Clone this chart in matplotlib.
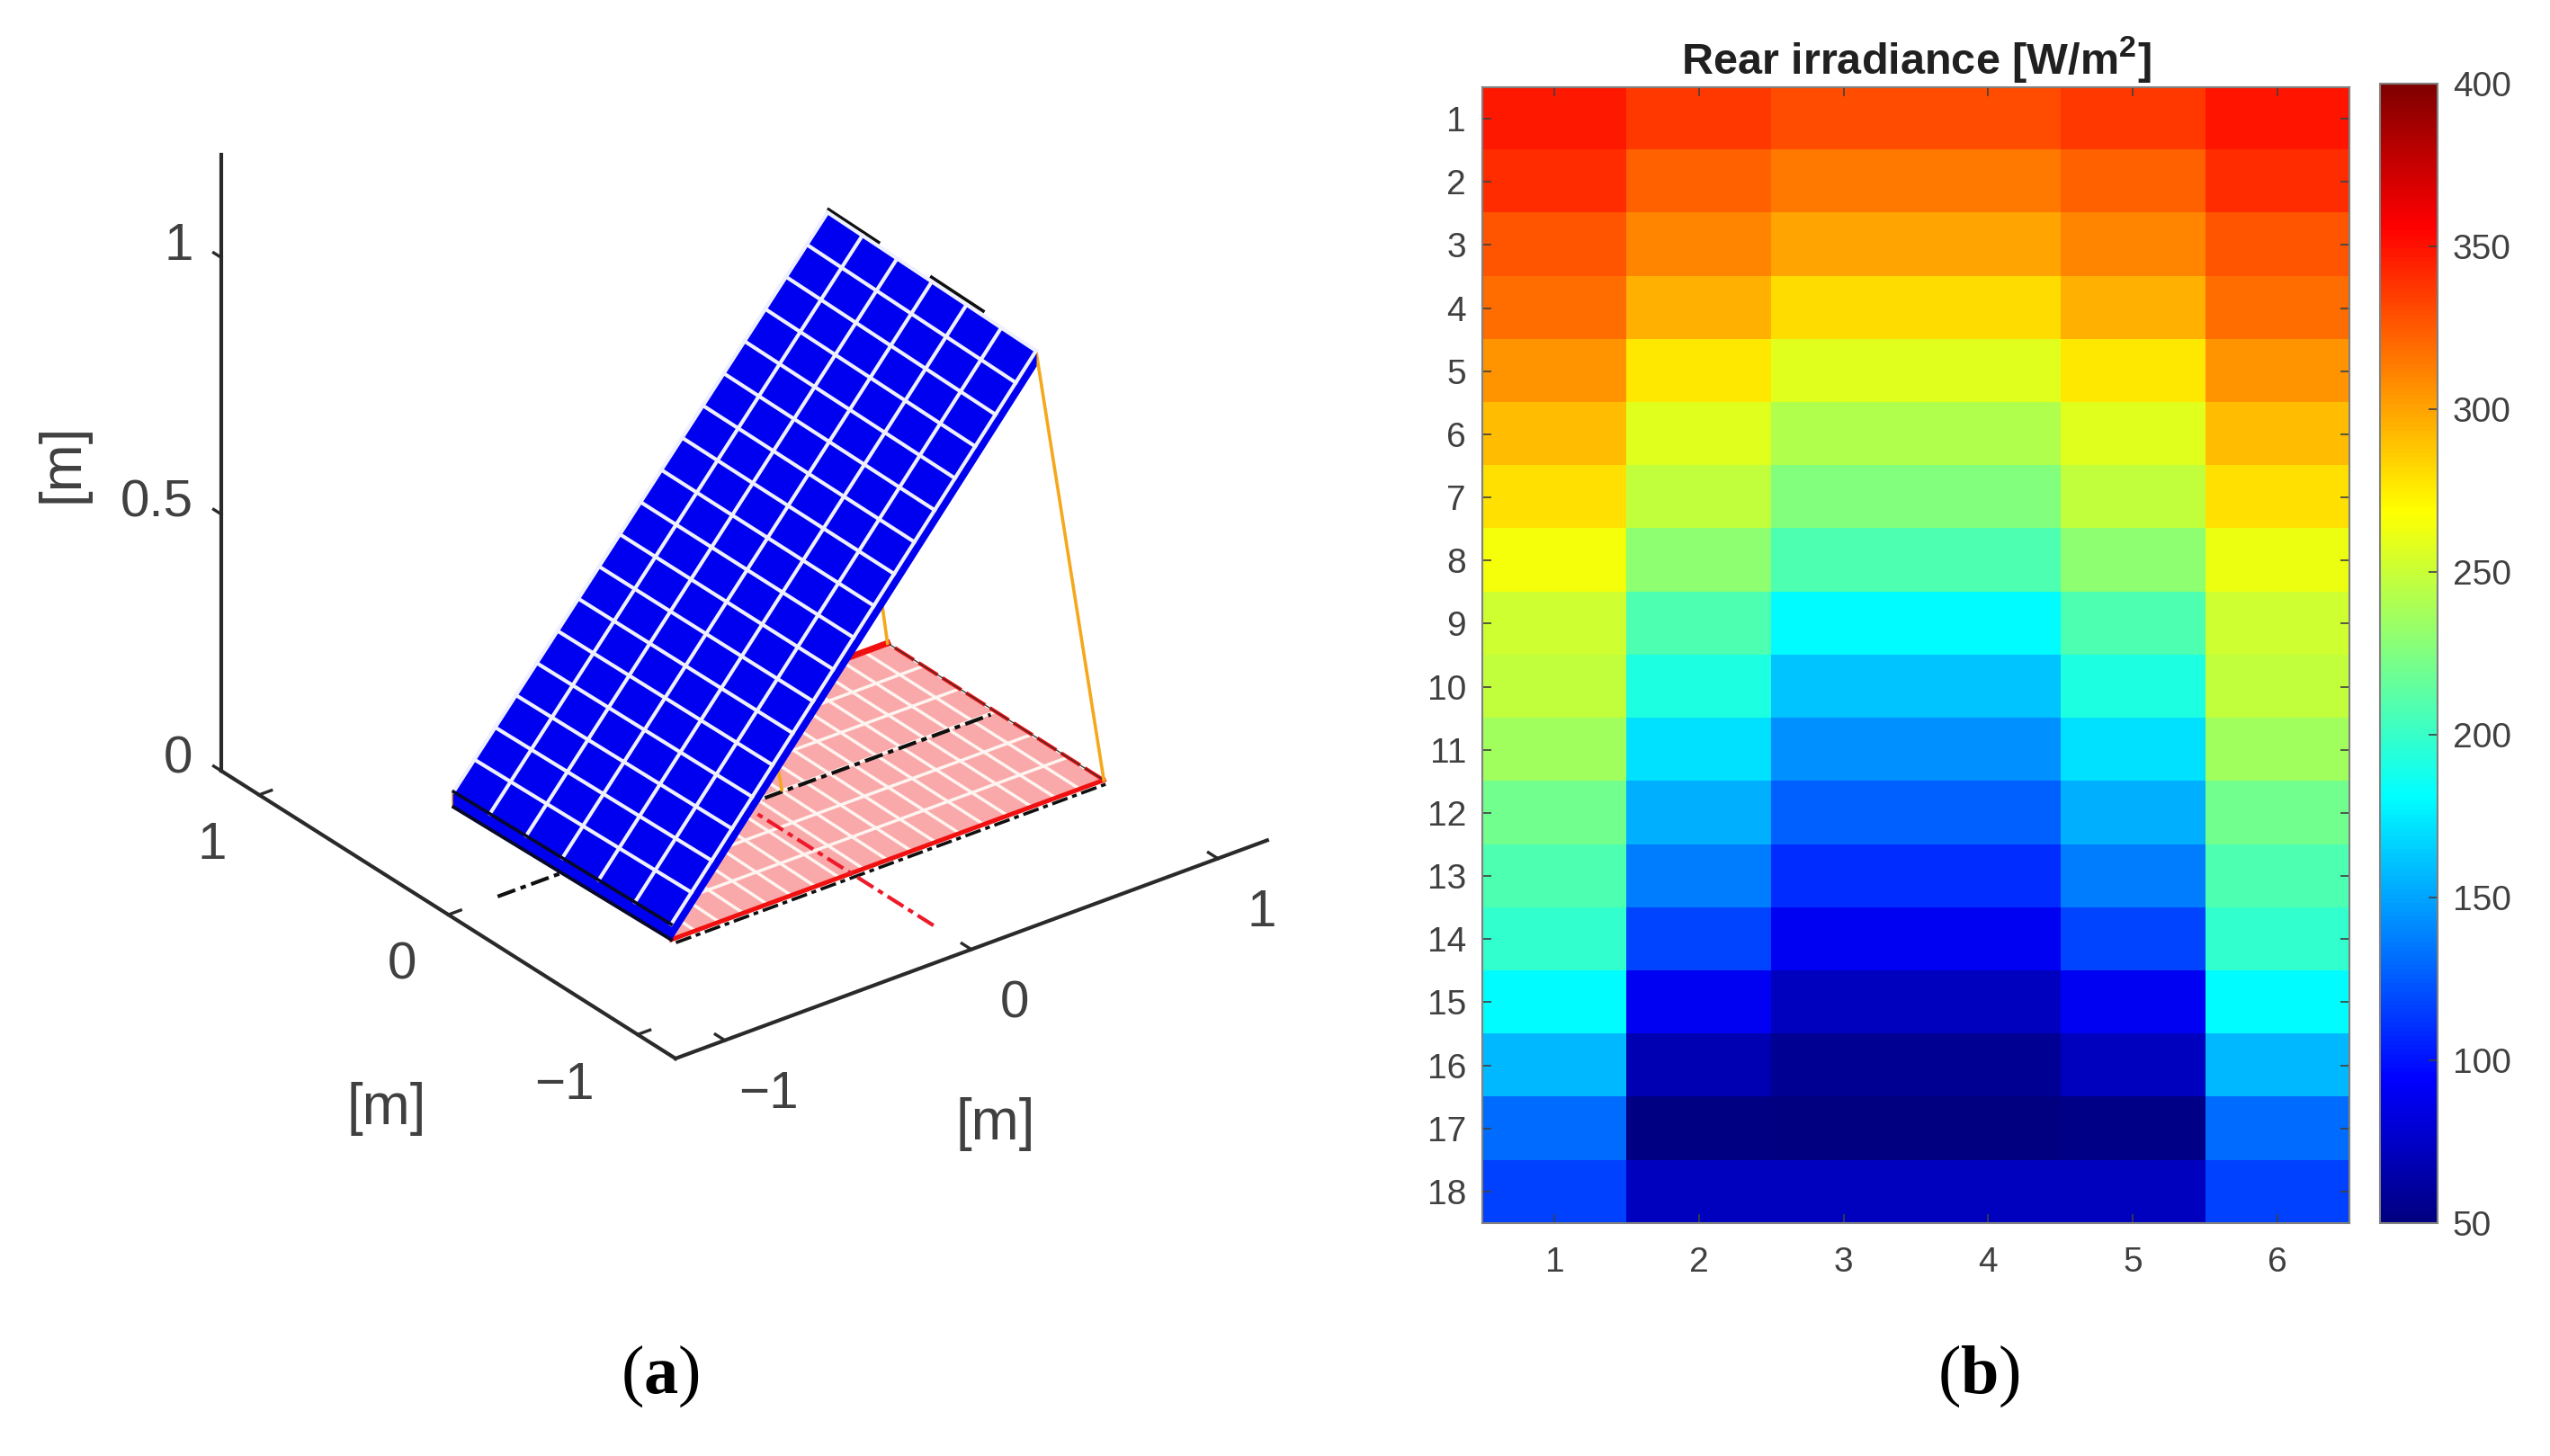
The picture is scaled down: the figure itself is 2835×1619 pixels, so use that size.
import matplotlib

matplotlib.use('Agg')
import matplotlib.pyplot as plt
import numpy as np
from matplotlib.colors import LinearSegmentedColormap
from mpl_toolkits.mplot3d import proj3d
from mpl_toolkits.mplot3d.art3d import Poly3DCollection

W, H = 2835, 1619

ROW_LABELS = list(range(1, 19))
COL_LABELS = list(range(1, 7))
CBAR_TICKS = [50, 100, 150, 200, 250, 300, 350, 400]
REAR_IRRADIANCE = [
    [347, 336, 329, 329, 336, 349],
    [340, 323, 315, 315, 323, 340],
    [327, 311, 299, 299, 311, 327],
    [318, 296, 280, 280, 296, 318],
    [305, 276, 258, 258, 276, 305],
    [291, 258, 242, 242, 258, 291],
    [279, 247, 225, 225, 247, 279],
    [265, 230, 208, 208, 230, 262],
    [252, 208, 181, 181, 208, 252],
    [247, 192, 162, 162, 192, 247],
    [236, 171, 143, 143, 171, 236],
    [220, 154, 127, 127, 154, 220],
    [208, 137, 110, 110, 137, 208],
    [198, 118, 90, 90, 118, 198],
    [181, 90, 72, 72, 90, 181],
    [157, 69, 58, 58, 72, 157],
    [132, 52, 50, 50, 54, 132],
    [116, 72, 73, 73, 72, 116],
]

AXIS_TICKS = [-1, 0, 1]
Z_TICKS = [0, 0.5, 1]
Z_TICK_LABELS = ['0', '0.5', '1']

# corners in metres: low right, low left, top left, top right
PANEL_CORNERS = [
    [-0.73, -0.565, 0.03],
    [-0.751, 0.557, 0.03],
    [0.776, 0.57, 0.885],
    [0.75, -0.565, 0.885],
]
PANEL_THICKNESS = 0.03
# front left, front right, back right, back left
GROUND_CORNERS = [
    [-0.73, -0.565, 0],
    [1.025, -0.565, 0],
    [1.025, 0.578, 0],
    [-0.70, 0.578, 0],
]
SUPPORTS = [
    [[0.75, -0.565, 0.885], [1.025, -0.565, 0]],
    [[0.776, 0.57, 0.885], [1.025, 0.578, 0]],
    [[0.16, 0.01, 0], [0.06, 0.01, 0.3]],
    [[-0.73, -0.565, 0.03], [-0.73, -0.565, 0]],
    [[-0.751, 0.557, 0.03], [-0.751, 0.557, 0]],
]
BLACK_AXIS_LINE = [[-1, 0, 0], [1, 0, 0]]
RED_AXIS_LINE = [[0, -1, 0], [0, 1, 0]]
TOP_DASHES = [
    [[0.78, 0.57, 0.89], [0.775, 0.30, 0.89]],
    [[0.77, 0.013, 0.89], [0.765, -0.266, 0.89]],
]

BLUE = '#0000F0'
PINK = '#F9A9A9'
ORANGE = '#F5A81C'
RED = '#F01010'
AXIS_COLOR = '#2a2a2a'
TEXT_COLOR = '#404040'
JET_STOPS = [
    (0, '#000080'),
    (0.125, '#0000FF'),
    (0.375, '#00FFFF'),
    (0.625, '#FFFF00'),
    (0.875, '#FF0000'),
    (1, '#800000'),
]


def line3d(ax, points, **kwargs):
    x, y, z = np.array(points, dtype=float).T
    ax.plot(x, y, z, **kwargs)


def grid_lines(ax, c0, c1, c2, c3, n_u, n_v, first_v=0, **kwargs):
    # c0-c1 runs across u, c0-c3 runs across v
    c0, c1, c2, c3 = [np.array(c, dtype=float) for c in (c0, c1, c2, c3)]
    for t in np.linspace(0, 1, n_u + 1):
        line3d(ax, [c0 + (c1 - c0) * t, c3 + (c2 - c3) * t], **kwargs)
    for t in np.linspace(0, 1, n_v + 1)[first_v:]:
        line3d(ax, [c0 + (c3 - c0) * t, c1 + (c2 - c1) * t], **kwargs)


def to_pixels(ax, point):
    x, y, _ = proj3d.proj_transform(*point, ax.get_proj())
    px, py = ax.transData.transform((x, y))
    return np.array([px, H - py])


def label3d(fig, ax, point, text, **kwargs):
    # the projected spot goes to a figure text, so the label keeps its real place
    px, py = to_pixels(ax, point)
    fig.text(px / W, 1 - py / H, text, va='center', fontsize=42, color=TEXT_COLOR,
             family='Liberation Sans', **kwargs)


def fit_axes(ax):
    # place the 3D box so its corners land where the picture has them
    left, top, side = 100.0, 100.0, 1200.0
    target_a, target_b = np.array([751.0, 1177.0]), np.array([1409.0, 935.0])
    for _ in range(3):
        ax.set_position([left / W, 1 - (top + side) / H, side / W, side / H])
        ax.apply_aspect()
        a = to_pixels(ax, (-1.2, -1.2, 0))
        b = to_pixels(ax, (1.2, -1.2, 0))
        side *= np.linalg.norm(target_b - target_a) / np.linalg.norm(b - a)
        ax.set_position([left / W, 1 - (top + side) / H, side / W, side / H])
        ax.apply_aspect()
        a = to_pixels(ax, (-1.2, -1.2, 0))
        left += target_a[0] - a[0]
        top += target_a[1] - a[1]
    ax.set_position([left / W, 1 - (top + side) / H, side / W, side / H])
    ax.apply_aspect()


def draw_scene(fig):
    ax = fig.add_axes([0.03, 0.1, 0.42, 0.75], projection='3d', proj_type='ortho')
    ax.computed_zorder = False
    ax.view_init(elev=28.9, azim=-127.35)
    ax.set_xlim(-1.2, 1.2, view_margin=0)
    ax.set_ylim(-1.2, 1.2, view_margin=0)
    ax.set_zlim(0, 1.2, view_margin=0)
    ax.set_box_aspect((827, 832, 782))
    ax.set_axis_off()
    ax.patch.set_alpha(0)
    fit_axes(ax)

    # axes
    axis_kw = dict(color=AXIS_COLOR, lw=3.0, zorder=1, solid_capstyle='projecting')
    line3d(ax, [[-1.2, -1.2, 0], [1.2, -1.2, 0]], **axis_kw)
    line3d(ax, [[-1.2, -1.2, 0], [-1.2, 1.2, 0]], **axis_kw)
    line3d(ax, [[-1.2, 1.2, 0], [-1.2, 1.2, 1.2]], **axis_kw)
    tick_kw = dict(color=AXIS_COLOR, lw=2.4, zorder=1)
    for t in AXIS_TICKS:
        line3d(ax, [[t, -1.2, 0], [t, -1.15, 0]], **tick_kw)
        line3d(ax, [[-1.2, t, 0], [-1.15, t, 0]], **tick_kw)
        tick_text = str(t).replace('-', '\u2212')
        label3d(fig, ax, (t + 0.177, -1.2, -0.137), tick_text, ha='center')
        # the minus sign pushes this label further out
        extra_x, extra_y = (-0.067, 0.051) if t < 0 else (0, 0)
        label3d(
            fig, ax, (-1.32 + extra_x, t + 0.091 + extra_y, -0.099), tick_text,
            ha='center',
        )
    for z, text in zip(Z_TICKS, Z_TICK_LABELS):
        line3d(ax, [[-1.2, 1.2, z], [-1.2, 1.24, z]], **tick_kw)
        label3d(fig, ax, (-1.23, 1.31, z + 0.002), text, ha='right')

    # ground patch
    ax.add_collection3d(
        Poly3DCollection([GROUND_CORNERS], facecolors=PINK, edgecolors='none', zorder=2),
        autolim=False,
    )
    g0, g1, g2, g3 = GROUND_CORNERS
    grid_lines(ax, g0, g3, g2, g1, 6, 18, color='#FFF4F0', lw=2.5, zorder=3)
    line3d(ax, [g0, g1], color=RED, lw=3.6, zorder=4)
    line3d(ax, [g1, g2], color=RED, lw=3.0, ls=(0, (6, 1.5)), zorder=4)
    line3d(ax, [g2, g3], color=RED, lw=5.0, zorder=4)
    line3d(
        ax, [[-0.73, -0.59, 0], [1.025, -0.59, 0]], color='#101010', lw=2.6,
        ls=(0, (5, 1.5, 1.5, 1.5)), zorder=5,
    )
    line3d(ax, [g1, g2], color='#303030', lw=0.9, zorder=5)

    # centre lines run under the panel
    line3d(ax, BLACK_AXIS_LINE, color='#101010', lw=3.0, ls=(0, (5, 1.5, 1.5, 1.5)), zorder=6)
    line3d(ax, RED_AXIS_LINE, color='#EE1A2A', lw=3.0, ls=(0, (5, 1.5, 1.5, 1.5)), zorder=6)

    for support in SUPPORTS:
        line3d(ax, support, color=ORANGE, lw=2.6, zorder=7)
    for dash in TOP_DASHES:
        line3d(ax, dash, color='#101010', lw=2.6, zorder=7)

    # panel: underside and edges first, then the top face and its cell grid
    p0, p1, p2, p3 = [np.array(c, dtype=float) for c in PANEL_CORNERS]
    drop = np.array([0, 0, -PANEL_THICKNESS])
    sides = [
        [p0, p3, p3 + drop, p0 + drop],
        [p0, p1, p1 + drop, p0 + drop],
    ]
    ax.add_collection3d(
        Poly3DCollection(sides, facecolors=BLUE, edgecolors=BLUE, lw=1, zorder=8),
        autolim=False,
    )
    ax.add_collection3d(
        Poly3DCollection([PANEL_CORNERS], facecolors=BLUE, edgecolors=BLUE, lw=1, zorder=9),
        autolim=False,
    )
    grid_lines(ax, p0, p1, p2, p3, 6, 18, first_v=1, color='#EEF0FF', lw=3.0, zorder=10)
    line3d(ax, [p0, p1], color='#08082a', lw=2.6, zorder=11)
    line3d(ax, [p0 + drop, p1 + drop], color='#08082a', lw=2.8, zorder=11)

    fig.text(69 / W, 1 - 515 / H, '[m]', rotation=90, ha='center', va='center',
             fontsize=46, color=TEXT_COLOR, family='Liberation Sans')
    fig.text(430 / W, 1 - 1233 / H, '[m]', ha='center', va='center',
             fontsize=46, color=TEXT_COLOR, family='Liberation Sans')
    fig.text(1107 / W, 1 - 1250 / H, '[m]', ha='center', va='center',
             fontsize=46, color=TEXT_COLOR, family='Liberation Sans')


def draw_heatmap(fig):
    left, right, top, bottom = 1648, 2612, 97, 1360
    ax = fig.add_axes([left / W, 1 - bottom / H, (right - left) / W, (bottom - top) / H])
    im = ax.imshow(
        np.array(REAR_IRRADIANCE),
        cmap=LinearSegmentedColormap.from_list('matlab_jet', JET_STOPS, N=256),
        vmin=50,
        vmax=400,
        aspect='auto',
        interpolation='nearest',
        extent=(0.5, 6.5, 18.5, 0.5),
    )
    ax.set_xticks(COL_LABELS)
    ax.set_yticks(ROW_LABELS)
    ax.tick_params(
        axis='both', direction='in', length=7, width=1.2, color='#404040',
        top=True, right=True, labelsize=28, labelcolor=TEXT_COLOR, pad=13,
    )
    ax.tick_params(axis='x', pad=19)
    for label in ax.get_xticklabels() + ax.get_yticklabels():
        label.set_family('Liberation Sans')
    for spine in ax.spines.values():
        spine.set_color('#808080')
        spine.set_linewidth(1.5)
    fig.text(
        (left + right) / 2 / W, 1 - 67 / H,
        r'Rear irradiance [W/m$^{\mathsf{2}}$]',
        ha='center', va='center', fontsize=35, fontweight='bold',
        color='#202020', family='Liberation Sans',
    )

    cax = fig.add_axes([2646 / W, 1 - bottom / H, 64 / W, (bottom - 93) / H])
    cbar = fig.colorbar(im, cax=cax)
    cbar.set_ticks(CBAR_TICKS)
    cbar.ax.tick_params(
        direction='in', length=7, width=1.2, color='#404040',
        labelsize=28, labelcolor=TEXT_COLOR, pad=12,
    )
    for label in cbar.ax.get_yticklabels():
        label.set_family('Liberation Sans')
    cbar.outline.set_edgecolor('#808080')
    cbar.outline.set_linewidth(1.5)


def main():
    plt.rcParams['mathtext.fontset'] = 'custom'
    plt.rcParams['mathtext.sf'] = 'Liberation Sans:bold'
    plt.rcParams['mathtext.bf'] = 'Liberation Serif:bold'
    plt.rcParams['mathtext.rm'] = 'Liberation Serif'

    fig = plt.figure(figsize=(W / 100, H / 100), dpi=100)
    draw_scene(fig)
    draw_heatmap(fig)
    for text, x in [('a', 734), ('b', 2200)]:
        fig.text(
            x / W, 1 - 1530 / H, rf'($\mathbf{{{text}}}$)',
            ha='center', va='center', fontsize=55, color='black',
            family='Liberation Serif',
        )
    fig.savefig('out.png', dpi=100)
    plt.close(fig)


if __name__ == "__main__":
    main()
